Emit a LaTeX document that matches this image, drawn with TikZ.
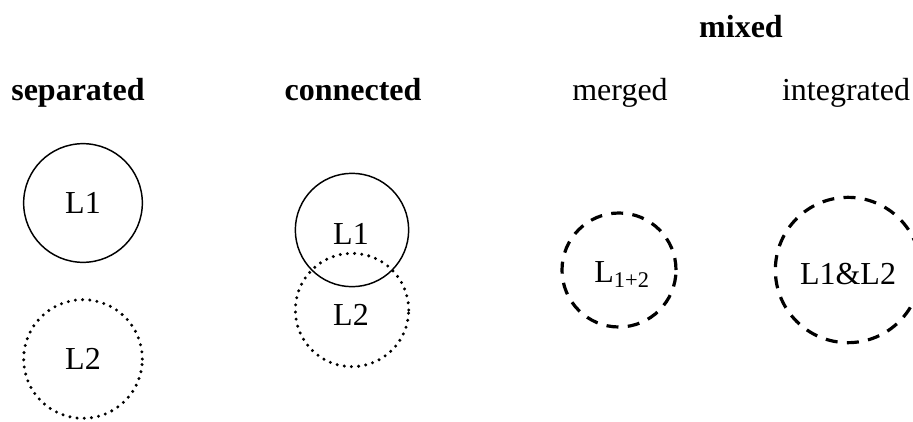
\documentclass[tikz,border=0pt]{standalone}
\usepackage{fontspec}
\setmainfont{Liberation Serif}
\begin{document}
\begin{tikzpicture}[x=0.75pt,y=-0.75pt,
  lbl/.style={anchor=base,inner sep=0pt,font=\fontsize{24}{28}\selectfont},
  hdr/.style={lbl,font=\fontsize{24}{28}\selectfont\bfseries},
  ring/.style={circle,inner sep=0pt,font=\fontsize{24}{28}\selectfont},
  solidring/.style={ring,draw,line width=1.1pt},
  dotring/.style={ring,draw,line width=2.5pt,line cap=round,dash pattern=on 0pt off 5.4pt},
  dashring/.style={ring,draw,line width=2.4pt,dash pattern=on 9pt off 7pt}]
\useasboundingbox (0,0) rectangle (913,421);
\node[hdr] (mixed) at (741,37) {mixed};
\node[hdr] (sep) at (78,100) {separated};
\node[hdr] (con) at (353,100) {connected};
\node[lbl] (mer) at (620,100) {merged};
\node[lbl] (int) at (846,100) {integrated};
\node[solidring,minimum size=89pt] (s1) at (83,203) {L1};
\node[dotring,minimum size=89pt] (s2) at (83,359) {L2};
\node[dotring,minimum size=85pt] (c2) at (352,310) {};
\node[solidring,minimum size=85pt] (c1) at (352,230) {};
\node[ring] (c1t) at (351,234) {L1};
\node[ring] (c2t) at (351,315) {L2};
\node[dashring,minimum size=85.5pt] (m) at (619,270) {};
\node[ring] (mt) at (622,275) {L\textsubscript{1+2}};
\node[dashring,minimum size=109pt] (i) at (848,270) {};
\node[ring] (it) at (848,274) {L1\&L2};
\end{tikzpicture}
\end{document}
